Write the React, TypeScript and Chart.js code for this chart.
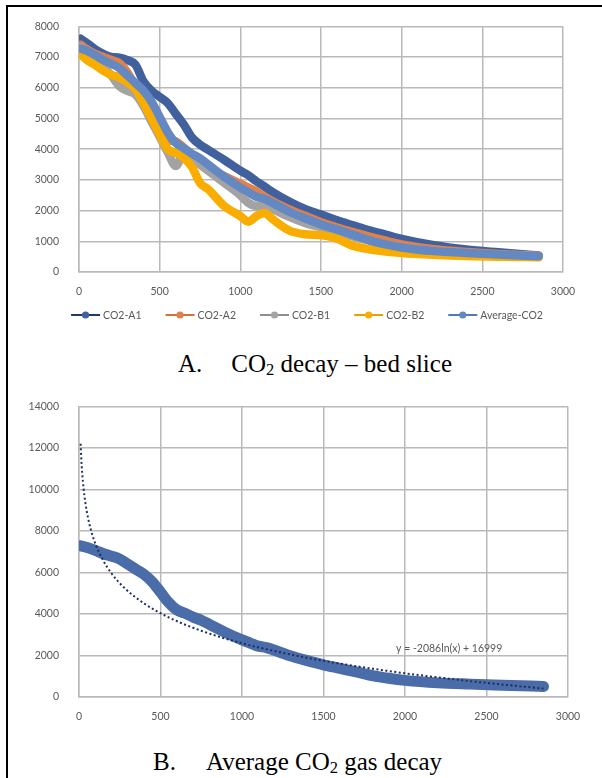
import React, { useEffect, useRef } from "react";
import { Chart, registerables } from "chart.js";

Chart.register(...registerables);

// Sampling times (s) shared by every measured series
const TIME_S = [10, 50, 100, 150, 200, 250, 300, 350, 400, 450, 500, 550, 600, 650, 700, 750, 800, 900, 1000, 1050, 1100, 1150, 1200, 1300, 1400, 1500, 1600, 1700, 1800, 1900, 2000, 2200, 2400, 2600, 2850];

const CO2_A1 = [7600, 7450, 7250, 7100, 7000, 6980, 6900, 6750, 6200, 5900, 5700, 5500, 5150, 4800, 4380, 4150, 3980, 3650, 3300, 3150, 2950, 2780, 2600, 2300, 2050, 1870, 1680, 1520, 1360, 1220, 1080, 870, 730, 640, 540];
const CO2_A2 = [7400, 7250, 7100, 7000, 6900, 6800, 6500, 6000, 5500, 4900, 4500, 4300, 4250, 4050, 3800, 3600, 3400, 3120, 2880, 2750, 2620, 2450, 2300, 2050, 1830, 1620, 1450, 1300, 1150, 1020, 900, 740, 650, 590, 530];
const CO2_B1 = [7320, 7150, 6950, 6700, 6400, 6050, 5900, 5780, 5400, 4900, 4400, 3900, 3450, 3850, 3700, 3500, 3300, 2900, 2500, 2250, 2150, 2150, 2050, 1800, 1600, 1450, 1300, 1150, 1020, 900, 800, 680, 610, 560, 510];
const CO2_B2 = [7080, 6900, 6740, 6560, 6420, 6340, 6180, 5950, 5500, 5000, 4480, 4000, 3880, 3720, 3420, 2900, 2700, 2150, 1820, 1640, 1820, 1920, 1720, 1360, 1230, 1200, 1080, 850, 740, 670, 620, 560, 520, 500, 480];
const AVERAGE_CO2 = [7280, 7200, 7060, 6900, 6780, 6640, 6400, 6150, 5900, 5540, 5050, 4550, 4200, 4030, 3850, 3700, 3500, 3100, 2750, 2600, 2450, 2380, 2250, 1970, 1750, 1550, 1380, 1210, 1030, 900, 800, 680, 620, 570, 510];

const SERIES_LABELS = ["CO2-A1", "CO2-A2", "CO2-B1", "CO2-B2", "Average-CO2"];
const SERIES_VALUES = [CO2_A1, CO2_A2, CO2_B1, CO2_B2, AVERAGE_CO2];

// Logarithmic trend fitted to the average: y = -2086 ln(x) + 16999
const TREND_SLOPE = -2086;
const TREND_INTERCEPT = 16999;
const TREND_X = [10, 14, 20, 28, 40, 55, 75, 100, 140, 200, 280, 400, 550, 750, 1000, 1400, 1900, 2400, 2850];
const TREND_LABEL = "y = -2086ln(x) + 16999";

// Axis ticks
const X_TICKS = [0, 500, 1000, 1500, 2000, 2500, 3000];
const Y_TICKS_A = [0, 1000, 2000, 3000, 4000, 5000, 6000, 7000, 8000];
const Y_TICKS_B = [0, 2000, 4000, 6000, 8000, 10000, 12000, 14000];

// Styling
const BAND_COLORS = ["#41609e", "#e0814a", "#a3a3a3", "#f9ad00", "#6489c2"];
const LEGEND_LINE_COLORS = ["#1f3a6e", "#d4703a", "#8f8f8f", "#e8a000", "#4f7bb6"];
const AVERAGE_B_COLOR = "#4a6ca8";
const TREND_COLOR = "#1f2f60";
const GRID_COLOR = "#b9b9b9";
const TEXT_COLOR = "#595959";
const FONT = "Lato, 'Liberation Sans', sans-serif";
const FONT_SIZE = 10.5;

const toPoints = (xs: number[], ys: number[]) => xs.map((x, i) => ({ x, y: ys[i] }));

const fixedTicks = (values: number[]) => (scale: any) => {
  scale.ticks = values.map((v) => ({ value: v }));
};

function axisOptions(ticks: number[], isX: boolean, size: number) {
  return {
    type: "linear",
    min: ticks[0],
    max: ticks[ticks.length - 1],
    afterBuildTicks: fixedTicks(ticks),
    afterFit: (scale: any) => {
      if (isX) scale.height = size;
      else scale.width = size;
    },
    grid: { color: GRID_COLOR, lineWidth: 1.5, drawTicks: false },
    border: { color: GRID_COLOR, width: 1.5 },
    ticks: {
      color: TEXT_COLOR,
      font: { family: FONT, size: FONT_SIZE },
      padding: isX ? 13 : 20,
      maxRotation: 0,
      autoSkip: false,
      callback: (v: number) => String(v),
    },
  };
}

// Excel-style legend: short line with a round marker, then the series name
const lineMarkerLegend = {
  id: "lineMarkerLegend",
  afterDraw(chart: any, _args: any, opts: any) {
    const ctx = chart.ctx;
    const labels: string[] = chart.data.datasets.map((d: any) => d.label);
    ctx.save();
    ctx.font = `${FONT_SIZE}px ${FONT}`;
    const lineLen = 29;
    const textGap = 3;
    const itemGap = 24;
    const widths = labels.map((l) => lineLen + textGap + ctx.measureText(l).width);
    const total = widths.reduce((a, b) => a + b, 0) + itemGap * (labels.length - 1);
    let x = opts.centerX - total / 2;
    const y = opts.y;
    labels.forEach((label, i) => {
      ctx.strokeStyle = LEGEND_LINE_COLORS[i];
      ctx.lineWidth = 2;
      ctx.beginPath();
      ctx.moveTo(x, y);
      ctx.lineTo(x + lineLen, y);
      ctx.stroke();
      ctx.fillStyle = BAND_COLORS[i];
      ctx.beginPath();
      ctx.arc(x + lineLen / 2, y, 3.6, 0, Math.PI * 2);
      ctx.fill();
      ctx.fillStyle = TEXT_COLOR;
      ctx.textAlign = "left";
      ctx.textBaseline = "middle";
      ctx.fillText(label, x + lineLen + textGap, y + 0.5);
      x += widths[i] + itemGap;
    });
    ctx.restore();
  },
};

// Equation text placed in data coordinates
const trendLabel = {
  id: "trendLabel",
  afterDatasetsDraw(chart: any, _args: any, opts: any) {
    const ctx = chart.ctx;
    const px = chart.scales.x.getPixelForValue(opts.x);
    const py = chart.scales.y.getPixelForValue(opts.y);
    ctx.save();
    ctx.font = `${FONT_SIZE}px ${FONT}`;
    ctx.fillStyle = TEXT_COLOR;
    ctx.textAlign = "left";
    ctx.textBaseline = "middle";
    ctx.fillText(opts.text, px, py);
    ctx.restore();
  },
};

function ChartCanvas({ config, width, height, style }: any) {
  const ref = useRef<HTMLCanvasElement>(null);
  useEffect(() => {
    const chart = new Chart(ref.current as HTMLCanvasElement, config());
    return () => chart.destroy();
  }, []);
  return <canvas ref={ref} width={width} height={height} style={{ position: "absolute", display: "block", width, height, ...style }} />;
}

const configA = () => ({
  type: "line",
  data: {
    datasets: SERIES_LABELS.map((label, i) => ({
      label,
      data: toPoints(TIME_S, SERIES_VALUES[i]),
      borderColor: BAND_COLORS[i],
      backgroundColor: BAND_COLORS[i],
      borderWidth: 8.5,
      borderCapStyle: "round",
      borderJoinStyle: "round",
      pointRadius: 0,
      cubicInterpolationMode: "monotone",
      order: SERIES_LABELS.length - i,
    })),
  },
  options: {
    responsive: false,
    animation: false,
    events: [],
    layout: { padding: { top: 23, left: 0, right: 39, bottom: 38 } },
    scales: {
      x: axisOptions(X_TICKS, true, 30),
      y: axisOptions(Y_TICKS_A, false, 79),
    },
    plugins: {
      legend: { display: false },
      tooltip: { enabled: false },
      lineMarkerLegend: { centerX: 307, y: 315 },
    },
  },
  plugins: [lineMarkerLegend],
});

const configB = () => ({
  type: "line",
  data: {
    datasets: [
      {
        label: "Trend",
        data: toPoints(TREND_X, TREND_X.map((x) => TREND_SLOPE * Math.log(x) + TREND_INTERCEPT)),
        borderColor: TREND_COLOR,
        borderWidth: 2,
        borderDash: [2, 2.5],
        pointRadius: 0,
        cubicInterpolationMode: "monotone",
        order: 0,
      },
      {
        label: "Average-CO2",
        data: toPoints(TIME_S, AVERAGE_CO2),
        borderColor: AVERAGE_B_COLOR,
        backgroundColor: AVERAGE_B_COLOR,
        borderWidth: 11,
        borderCapStyle: "round",
        borderJoinStyle: "round",
        pointRadius: 0,
        cubicInterpolationMode: "monotone",
        order: 1,
      },
    ],
  },
  options: {
    responsive: false,
    animation: false,
    events: [],
    layout: { padding: { top: 23, left: 0, right: 34, bottom: 13 } },
    scales: {
      x: axisOptions(X_TICKS, true, 30),
      y: axisOptions(Y_TICKS_B, false, 79),
    },
    plugins: {
      legend: { display: false },
      tooltip: { enabled: false },
      trendLabel: { x: 1945, y: 2330, text: TREND_LABEL },
    },
  },
  plugins: [trendLabel],
});

const captionStyle: React.CSSProperties = {
  position: "absolute",
  fontFamily: "'Liberation Serif', 'Times New Roman', serif",
  fontSize: 25,
  lineHeight: "25px",
  color: "#000",
  whiteSpace: "nowrap",
};

const sub: React.CSSProperties = { fontSize: "0.66em", verticalAlign: "-0.2em", lineHeight: 0 };

export default function App() {
  return (
    <div style={{ position: "absolute", left: 0, top: 0, width: 602, height: 778, background: "#fff", overflow: "hidden" }}>
      <div style={{ position: "absolute", left: 6, top: 5, right: 0, bottom: 0, borderLeft: "2px solid #000", borderTop: "2px solid #000" }} />
      <ChartCanvas config={configA} width={602} height={340} style={{ left: 0, top: 0 }} />
      <div style={{ ...captionStyle, left: 178, top: 351 }}>
        <span style={{ marginRight: 29 }}>A.</span>CO<span style={sub}>2</span> decay – bed slice
      </div>
      <ChartCanvas config={configB} width={602} height={360} style={{ left: 0, top: 380 }} />
      <div style={{ ...captionStyle, left: 153, top: 749 }}>
        <span style={{ marginRight: 30 }}>B.</span>Average CO<span style={sub}>2</span> gas decay
      </div>
    </div>
  );
}
